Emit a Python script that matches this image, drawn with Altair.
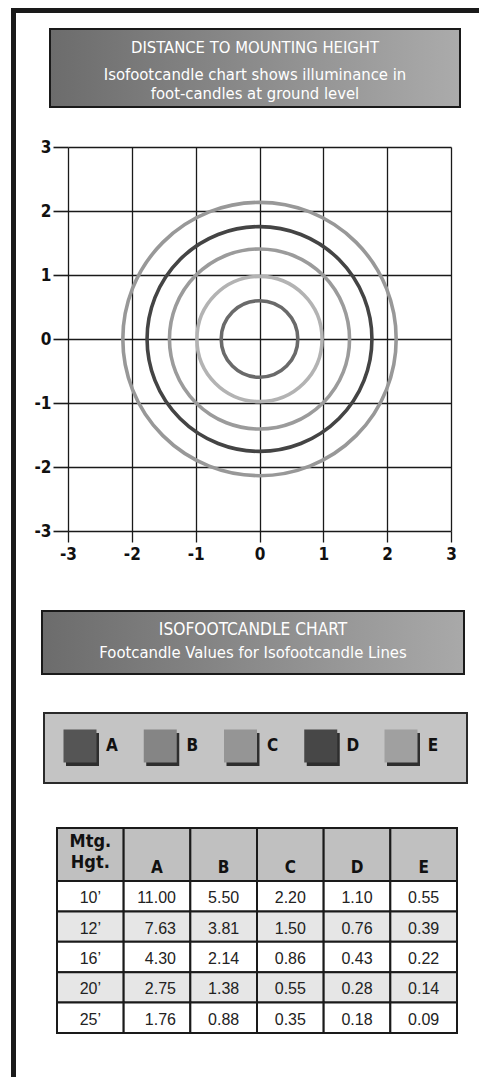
import math
import altair as alt
import pandas as pd

# ---------------- data ----------------
series = ["A", "B", "C", "D", "E"]
radii = [0.60, 0.98, 1.41, 1.76, 2.14]
circle_colors = ["#6a6a6a", "#b3b3b3", "#9b9b9b", "#444444", "#989898"]
legend_colors = ["#555555", "#858585", "#959595", "#474747", "#a0a0a0"]
axis_ticks = [-3, -2, -1, 0, 1, 2, 3]

heights = ["10\u2019", "12\u2019", "16\u2019", "20\u2019", "25\u2019"]
col_A = [11.00, 7.63, 4.30, 2.75, 1.76]
col_B = [5.50, 3.81, 2.14, 1.38, 0.88]
col_C = [2.20, 1.50, 0.86, 0.55, 0.35]
col_D = [1.10, 0.76, 0.43, 0.28, 0.18]
col_E = [0.55, 0.39, 0.22, 0.14, 0.09]
row_fills = ["#ffffff", "#e6e6e6", "#ffffff", "#e6e6e6", "#ffffff"]

title1 = ["DISTANCE TO MOUNTING HEIGHT",
          "Isofootcandle chart shows illuminance in",
          "foot-candles at ground level"]
title2 = ["ISOFOOTCANDLE CHART", "Footcandle Values for Isofootcandle Lines"]
header_first = ["Mtg.", "Hgt."]
col_keys = ["Hgt"] + series

NARROW = "Liberation Sans Narrow, DejaVu Sans Condensed, Arial Narrow, sans-serif"
REG = "Liberation Sans, Arial, Helvetica, sans-serif"
INK = "#1a1a1a"

# ---------------- tables ----------------
circ_df = pd.DataFrame({"series": series, "r": radii, "cx": [0.0] * 5, "cy": [0.0] * 5})
leg_df = pd.DataFrame({"series": series})
vals = {"A": col_A, "B": col_B, "C": col_C, "D": col_D, "E": col_E}
cell_rows = []
for i, h in enumerate(heights):
    cell_rows.append({"col": "Hgt", "hgt": h, "label": h, "val": None})
    for s in series:
        cell_rows.append({"col": s, "hgt": h, "label": "", "val": vals[s][i]})
cells = pd.DataFrame(cell_rows)
head_df = pd.DataFrame({"col": col_keys, "label": [""] + series})
one = pd.DataFrame({"k": [0]})

# ---------------- scales ----------------
def xcol():
    return alt.X("col:N", scale=alt.Scale(type="band", domain=col_keys, range=[-11, 389],
                                          paddingInner=0, paddingOuter=0), axis=None)

yrow = alt.Y("hgt:N", scale=alt.Scale(type="band", domain=heights, range=[734, 886],
                                      paddingInner=0, paddingOuter=0), axis=None)

# ---------------- plot ----------------
xaxis = alt.Axis(values=axis_ticks, grid=True, gridColor=INK, gridWidth=1.3, gridOpacity=1,
                 domain=False, ticks=True, tickColor=INK, tickSize=11, tickWidth=1.3,
                 labelFont=NARROW, labelFontSize=17, labelFontWeight="bold", labelColor="#111",
                 labelPadding=4, labelExpr="'' + datum.value", title=None,
                 labelFlush=False, labelOverlap=False)
yaxis = alt.Axis(values=axis_ticks, grid=True, gridColor=INK, gridWidth=1.6, gridOpacity=1,
                 domain=False, ticks=True, tickColor=INK, tickSize=15, tickWidth=1.6,
                 labelFont=NARROW, labelFontSize=17, labelFontWeight="bold", labelColor="#111",
                 labelPadding=2, labelExpr="'' + datum.value", title=None,
                 labelFlush=False, labelOverlap=False)

circles = alt.Chart(circ_df).mark_arc(theta=0, theta2=2 * math.pi, filled=False,
                                      strokeWidth=3.6).encode(
    x=alt.X("cx:Q", scale=alt.Scale(domain=[-3, 3], nice=False, zero=False), axis=xaxis),
    y=alt.Y("cy:Q", scale=alt.Scale(domain=[-3, 3], nice=False, zero=False), axis=yaxis),
    radius=alt.Radius("r:Q", stack=False,
                      scale=alt.Scale(type="linear", domain=[0, 3], range=[0, 191.6], zero=True)),
    color=alt.Color("series:N", scale=alt.Scale(domain=series, range=circle_colors), legend=None),
)

# ---------------- decorations ----------------
def grad(c0, c1):
    return alt.LinearGradient(gradient="linear",
                              stops=[alt.GradientStop(color=c0, offset=0),
                                     alt.GradientStop(color=c1, offset=1)],
                              x1=0, x2=1, y1=0, y2=0)

layers = []
# frame
layers.append(alt.Chart(one).mark_rule(color=INK, strokeWidth=5).encode(
    x=alt.value(-54.5), y=alt.value(-139), y2=alt.value(930)))
layers.append(alt.Chart(one).mark_rule(color=INK, strokeWidth=5).encode(
    x=alt.value(-57), x2=alt.value(411), y=alt.value(-136.5)))

# title box 1
layers.append(alt.Chart(one).mark_rect(fill=grad("#6c6c6c", "#ababab"), stroke=INK,
                                       strokeWidth=2).encode(
    x=alt.value(-18), x2=alt.value(392), y=alt.value(-118), y2=alt.value(-40)))
for txt, yy, fs in zip(title1, [-99, -72, -53], [16.5, 16.5, 16.5]):
    layers.append(alt.Chart(one).mark_text(font=NARROW, fontSize=fs, color="white",
                                           baseline="middle", align="center").encode(
        x=alt.value(187), y=alt.value(yy), text=alt.value(txt)))

# title box 2
layers.append(alt.Chart(one).mark_rect(fill=grad("#6c6c6c", "#a9a9a9"), stroke=INK,
                                       strokeWidth=2).encode(
    x=alt.value(-26), x2=alt.value(396), y=alt.value(464), y2=alt.value(527)))
for txt, yy, fs in zip(title2, [483, 506], [17.2, 16.5]):
    layers.append(alt.Chart(one).mark_text(font=NARROW, fontSize=fs, color="white",
                                           baseline="middle", align="center").encode(
        x=alt.value(185), y=alt.value(yy), text=alt.value(txt)))

# legend box
layers.append(alt.Chart(one).mark_rect(fill="#c4c4c4", stroke="#2a2a2a", strokeWidth=2).encode(
    x=alt.value(-24), x2=alt.value(399), y=alt.value(566), y2=alt.value(636)))
legx = alt.X("series:N", scale=alt.Scale(type="point", domain=series, range=[12, 333],
                                         padding=0), axis=None)
layers.append(alt.Chart(leg_df).mark_square(size=1089, color="#2e2e2e", opacity=1,
                                            xOffset=2.5, yOffset=2.5).encode(
    x=legx, y=alt.value(600)))
layers.append(alt.Chart(leg_df).mark_square(size=1089, opacity=1).encode(
    x=legx, y=alt.value(599),
    color=alt.Color("series:N", scale=alt.Scale(domain=series, range=legend_colors), legend=None)))
layers.append(alt.Chart(leg_df).mark_text(font=NARROW, fontSize=17, fontWeight="bold",
                                          color="#111", dx=32, baseline="middle").encode(
    x=legx, y=alt.value(599), text="series:N"))

# table
layers.append(alt.Chart(head_df).mark_rect(fill="#c0c0c0", stroke=INK, strokeWidth=2).encode(
    x=xcol(), y=alt.value(681), y2=alt.value(734)))
layers.append(alt.Chart(cells).mark_rect(stroke=INK, strokeWidth=2).encode(
    x=xcol(), y=yrow,
    fill=alt.Fill("hgt:N", scale=alt.Scale(domain=heights, range=row_fills), legend=None)))
layers.append(alt.Chart(head_df).transform_filter("datum.label != ''").mark_text(
    font=NARROW, fontSize=17, fontWeight="bold", color="#111", baseline="middle").encode(
    x=xcol(), y=alt.value(721), text="label:N"))
for txt, yy in zip(header_first, [695, 716]):
    layers.append(alt.Chart(head_df).transform_filter("datum.col == 'Hgt'").mark_text(
        font=NARROW, fontSize=18, fontWeight="bold", color="#111", baseline="middle").encode(
        x=xcol(), y=alt.value(yy), text=alt.value(txt)))
layers.append(alt.Chart(cells).transform_filter("datum.col == 'Hgt'").mark_text(
    font=REG, fontSize=16, color="#222", baseline="middle", dy=2).encode(
    x=xcol(), y=yrow, text="label:N"))
layers.append(alt.Chart(cells).transform_filter("datum.col == 'A'").mark_text(
    font=REG, fontSize=16, color="#222", baseline="middle", dy=2, align="right", dx=19).encode(
    x=xcol(), y=yrow, text=alt.Text("val:Q", format=".2f")))
layers.append(alt.Chart(cells).transform_filter("datum.col != 'Hgt' && datum.col != 'A'").mark_text(
    font=REG, fontSize=16, color="#222", baseline="middle", dy=2).encode(
    x=xcol(), y=yrow, text=alt.Text("val:Q", format=".2f")))

layers.append(circles)

chart = alt.layer(*layers).resolve_scale(
    x="independent", y="independent", color="independent", fill="independent"
).properties(
    width=383, height=384,
    padding={"left": 60, "top": 139, "right": 28, "bottom": 546},
    autosize=alt.AutoSizeParams(type="none"),
).configure_view(strokeWidth=0)

chart.save("out.html", embed_options={"renderer": "svg", "actions": False})
